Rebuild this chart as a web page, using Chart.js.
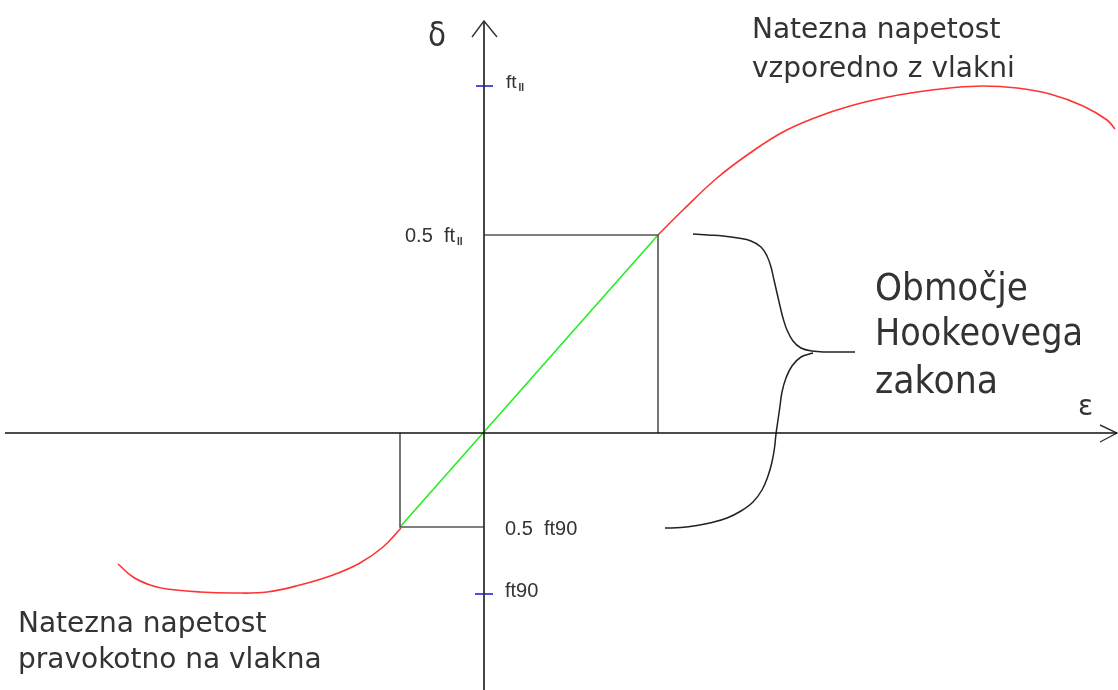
<!DOCTYPE html>
<html lang="sl">
<head>
<meta charset="UTF-8">
<title>Območje Hookeovega zakona</title>
<script src="https://cdn.jsdelivr.net/npm/chart.js"></script>
<style>
    body { margin: 0; padding: 0; background: #ffffff; }
    #wrap { width: 1118px; height: 690px; }
</style>
</head>
<body>
<div id="wrap"><canvas id="c" width="1118" height="690"></canvas></div>
<script>
// podatki (enote: epsilon / delta, izhodišče v presečišču osi)
const curveParallel = [
    [1.74, 1.98], [1.99, 2.23], [2.33, 2.55], [2.66, 2.80], [2.99, 3.01],
    [3.33, 3.16], [3.66, 3.27], [3.99, 3.35], [4.33, 3.41], [4.66, 3.45],
    [4.99, 3.47], [5.33, 3.45], [5.66, 3.39], [5.99, 3.27], [6.23, 3.13], [6.31, 3.04]
];
const curvePerp = [
    [-3.66, -1.31], [-3.51, -1.44], [-3.34, -1.52], [-3.17, -1.56], [-2.84, -1.59],
    [-2.51, -1.60], [-2.17, -1.59], [-1.84, -1.52], [-1.51, -1.42], [-1.24, -1.30],
    [-1.01, -1.14], [-0.83, -0.95]
];
const hookeLine = [[-0.84, -0.94], [1.74, 1.98]];
const boxUpper = [[0, 1.98], [1.74, 1.98], [1.74, 0]];
const boxLower = [[-0.84, 0], [-0.84, -0.94], [0, -0.94]];
const braceTop = [
    [2.09, 1.99], [2.24, 1.98], [2.39, 1.97], [2.54, 1.95], [2.67, 1.92], [2.77, 1.86],
    [2.83, 1.77], [2.87, 1.66], [2.90, 1.53], [2.93, 1.40], [2.96, 1.27], [2.99, 1.15],
    [3.03, 1.03], [3.09, 0.92], [3.17, 0.85], [3.28, 0.82], [3.42, 0.81], [3.57, 0.81], [3.71, 0.81]
];
const braceBottom = [
    [3.29, 0.80], [3.17, 0.76], [3.08, 0.67], [3.02, 0.55], [2.98, 0.41], [2.96, 0.27],
    [2.94, 0.13], [2.92, -0.01], [2.905, -0.15], [2.88, -0.29], [2.84, -0.43], [2.78, -0.57],
    [2.69, -0.69], [2.57, -0.78], [2.43, -0.85], [2.28, -0.895], [2.13, -0.925], [1.97, -0.945], [1.81, -0.95]
];
const axisX = [[-4.79, 0], [6.33, 0]];
const arrowX = [[6.16, 0.08], [6.33, 0], [6.16, -0.09]];
const axisY = [[0, -2.6], [0, 4.12]];
const arrowY = [[-0.12, 3.96], [0, 4.12], [0.13, 3.96]];
const tickFtPar = [[-0.08, 3.47], [0.09, 3.47]];
const tickFt90 = [[-0.09, -1.61], [0.09, -1.61]];

const xRange = [-4.84, 6.34];
const yRange = [-2.57, 4.33];

const labelsTopRight = ['Natezna napetost', 'vzporedno z vlakni'];
const labelsBottomLeft = ['Natezna napetost', 'pravokotno na vlakna'];
const labelsHooke = ['Območje', 'Hookeovega', 'zakona'];

const pts = arr => arr.map(p => ({ x: p[0], y: p[1] }));

function line(data, color, width, tension) {
    return {
        data: pts(data),
        showLine: true,
        borderColor: color,
        borderWidth: width,
        pointRadius: 0,
        tension: tension || 0,
        fill: false,
        clip: false
    };
}

// besedila na grafu
const textPlugin = {
    id: 'texts',
    afterDatasetsDraw(chart) {
        const ctx = chart.ctx;
        const xs = chart.scales.x, ys = chart.scales.y;
        const put = (txt, x, y, font, color, maxW) => {
            ctx.font = font;
            ctx.fillStyle = color;
            ctx.textAlign = 'left';
            ctx.textBaseline = 'alphabetic';
            const px = xs.getPixelForValue(x), py = ys.getPixelForValue(y);
            if (maxW) ctx.fillText(txt, px, py, maxW); else ctx.fillText(txt, px, py);
            return px + Math.min(ctx.measureText(txt).width, maxW || 1e9);
        };
        const big = '28px "DejaVu Sans"';
        const grey = '#333';
        put(labelsTopRight[0], 2.68, 3.95, big, grey, 256);
        put(labelsTopRight[1], 2.68, 3.56, big, grey, 280);
        put(labelsBottomLeft[0], -4.66, -1.99, big, grey, 259);
        put(labelsBottomLeft[1], -4.66, -2.35, big, grey, 319);

        const huge = '37px "DejaVu Sans"';
        put(labelsHooke[0], 3.91, 1.33, huge, grey, 153);
        put(labelsHooke[1], 3.91, 0.88, huge, grey, 208);
        put(labelsHooke[2], 3.91, 0.40, huge, grey, 123);

        put('δ', -0.56, 3.87, '34px "DejaVu Sans"', '#333', 18);
        put('ε', 5.94, 0.18, '28px "DejaVu Sans"', '#333', 16);

        const small = '19px "Liberation Sans"';
        const sub = 'bold 10px "Liberation Sans"';
        let e = put('ft', 0.22, 3.45, small, '#333');
        ctx.font = sub; ctx.fillText('II', e + 2, ys.getPixelForValue(3.45) + 3);
        e = put('0.5  ft', -0.79, 1.91, '20px "Liberation Sans"', '#333');
        ctx.font = sub; ctx.fillText('II', e + 2, ys.getPixelForValue(1.91) + 3);
        put('0.5  ft90', 0.21, -1.02, '20px "Liberation Sans"', '#333');
        put('ft90', 0.21, -1.64, '20px "Liberation Sans"', '#333');
    }
};

new Chart(document.getElementById('c'), {
    type: 'scatter',
    data: {
        datasets: [
            line(axisX, '#111', 1.6),
            line(arrowX, '#333', 1.4),
            line(axisY, '#333', 1.8),
            line(arrowY, '#333', 1.4),
            line(boxUpper, '#555', 1.6),
            line(boxLower, '#555', 1.6),
            line(tickFtPar, '#0000dd', 1.4),
            line(tickFt90, '#0000dd', 1.4),
            line(hookeLine, '#22ee22', 1.6),
            line(curveParallel, '#ff3333', 1.6, 0.4),
            line(curvePerp, '#ff3333', 1.6, 0.4),
            line(braceTop, '#222', 1.5, 0.4),
            line(braceBottom, '#222', 1.5, 0.4)
        ]
    },
    options: {
        responsive: false,
        animation: false,
        devicePixelRatio: 1,
        layout: { padding: 0 },
        plugins: { legend: { display: false }, tooltip: { enabled: false } },
        scales: {
            x: { type: 'linear', min: xRange[0], max: xRange[1], display: false },
            y: { type: 'linear', min: yRange[0], max: yRange[1], display: false }
        }
    },
    plugins: [textPlugin]
});
</script>
</body>
</html>
